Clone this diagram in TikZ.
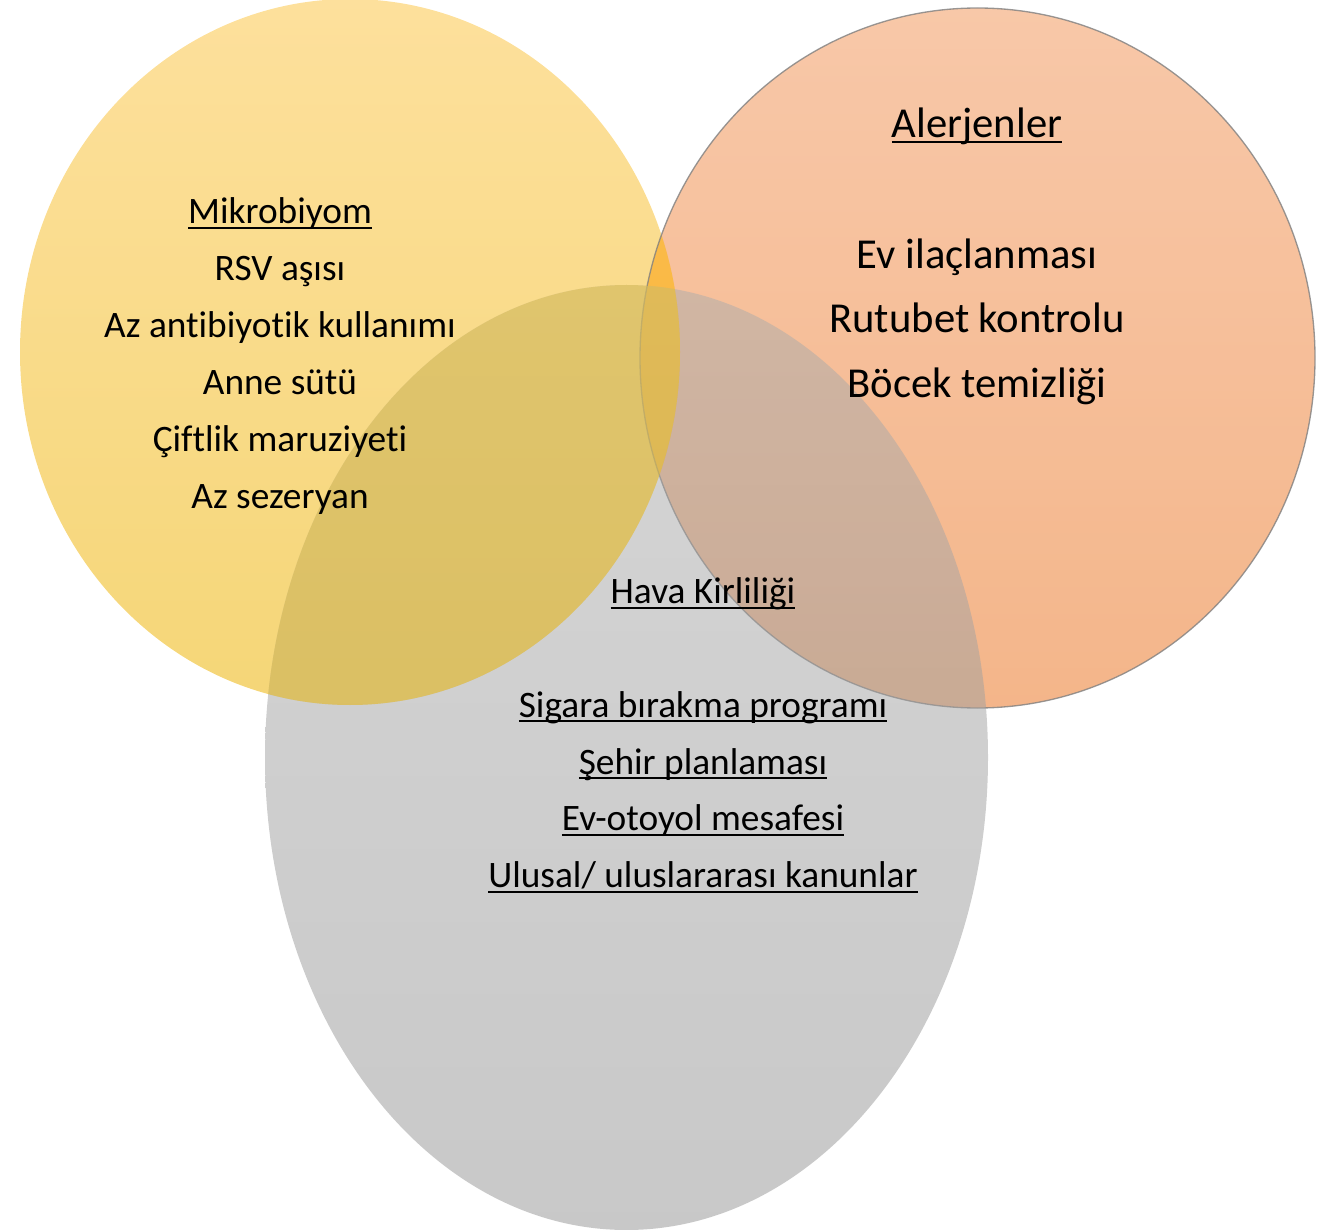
\documentclass[tikz,border=0pt]{standalone}
\usepackage{fontspec}
\setmainfont{Carlito}[Ligatures=NoCommon]
\usetikzlibrary{positioning}
\definecolor{ytop}{RGB}{253,224,156}
\definecolor{ybot}{RGB}{245,214,119}
\definecolor{otop}{RGB}{245,176,131}
\definecolor{obot}{RGB}{239,150,88}
\definecolor{gtop}{RGB}{172,172,172}
\definecolor{gbot}{RGB}{146,146,146}
\definecolor{lens}{RGB}{255,190,20}
\definecolor{ytint}{RGB}{245,200,40}
\newcommand{\ulin}[1]{\setbox0\hbox{#1}\rlap{\rule[-0.135em]{\wd0}{0.055em}}\box0}

\begin{document}
\begin{tikzpicture}[x=0.75pt,y=-0.75pt,
                    small/.style={font=\fontsize{28}{34}\selectfont,inner sep=0pt,
                                  text height=0.7em,text depth=0.25em},
                    big/.style={font=\fontsize{32}{38}\selectfont,inner sep=0pt,
                                text height=0.7em,text depth=0.25em}]
\useasboundingbox (0,0) rectangle (1332,1230);

% the three sets
\shade[top color=ytop,bottom color=ybot] (350,352) ellipse [x radius=330,y radius=353];
\shade[top color=otop,bottom color=obot,fill opacity=0.7] (977.5,358) ellipse [x radius=337.5,y radius=350];
\begin{scope}
  \clip (350,352) ellipse [x radius=330,y radius=353];
  \fill[lens,fill opacity=0.5] (977.5,358) ellipse [x radius=337.5,y radius=350];
\end{scope}
\draw[color=black!50,line width=1pt,draw opacity=0.8] (977.5,358) ellipse [x radius=337.5,y radius=350];
\shade[top color=gtop,bottom color=gbot,fill opacity=0.5] (626.5,757.5) ellipse [x radius=361.5,y radius=472.5];
\begin{scope}
  \clip (350,352) ellipse [x radius=330,y radius=353];
  \fill[ytint,fill opacity=0.4] (626.5,757.5) ellipse [x radius=361.5,y radius=472.5];
\end{scope}

% Mikrobiyom
\node[small] (m1) at (280,220.6) {\ulin{Mikrobiyom}};
\node[small] (m2) [below of=m1,node distance=42.75pt] {RSV aşısı};
\node[small] (m3) [below of=m2,node distance=42.75pt] {Az antibiyotik kullanımı};
\node[small] (m4) [below of=m3,node distance=42.75pt] {Anne sütü};
\node[small] (m5) [below of=m4,node distance=42.75pt] {Çiftlik maruziyeti};
\node[small] (m6) [below of=m5,node distance=42.75pt] {Az sezeryan};

% Alerjenler
\node[big] (a1) at (977,134.4) {\ulin{Alerjenler}};
\node[big] (a2) [below of=a1,node distance=98.25pt] {Ev ilaçlanması};
\node[big] (a3) [below of=a2,node distance=48.4pt] {Rutubet kontrolu};
\node[big] (a4) [below of=a3,node distance=48.4pt] {Böcek temizliği};

% Hava Kirliligi
\node[small] (h1) at (703,600.6) {\ulin{Hava Kirliliği}};
\node[small] (h2) [below of=h1,node distance=85.25pt] {\ulin{Sigara bırakma programı}};
\node[small] (h3) [below of=h2,node distance=42.75pt] {\ulin{Şehir planlaması}};
\node[small] (h4) [below of=h3,node distance=42.5pt] {\ulin{Ev-otoyol mesafesi}};
\node[small] (h5) [below of=h4,node distance=42.75pt] {\ulin{Ulusal/ uluslararası kanunlar}};

\end{tikzpicture}
\end{document}
